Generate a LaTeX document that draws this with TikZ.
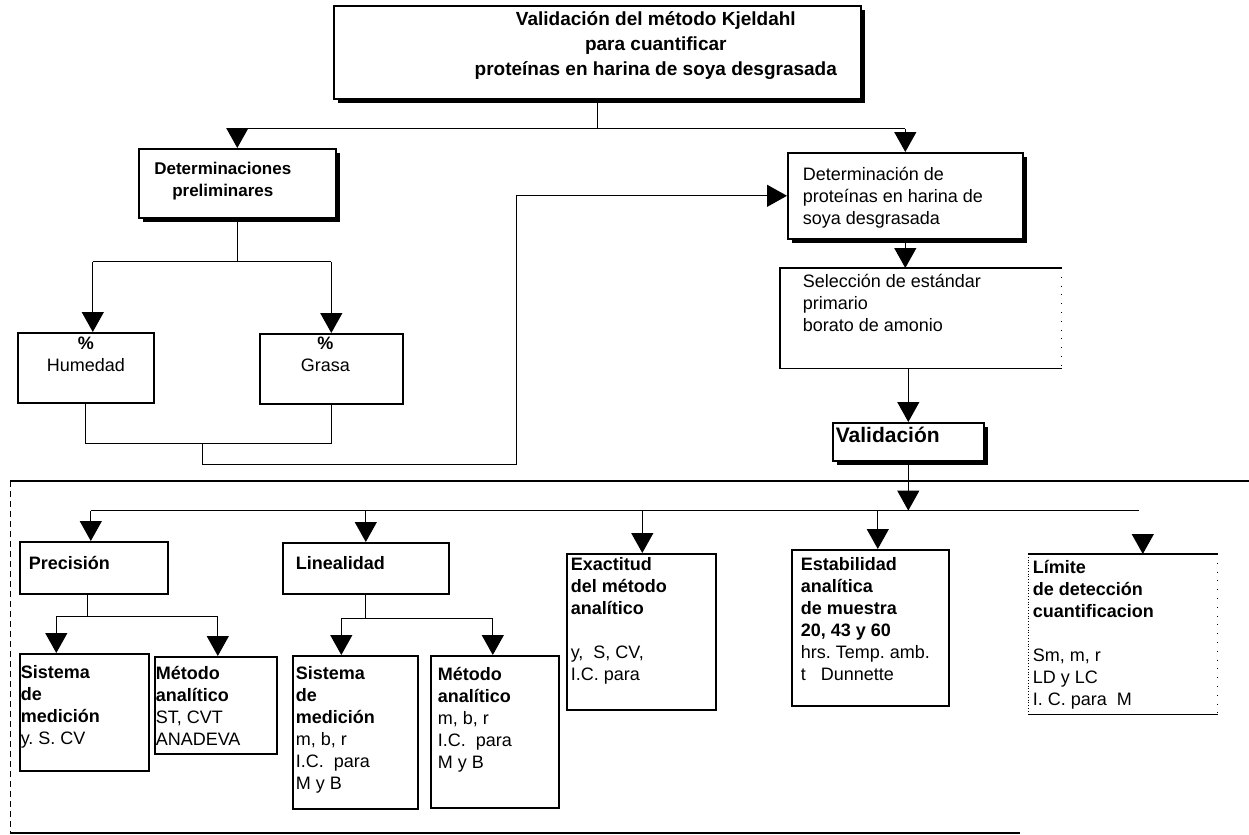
\documentclass[tikz,border=0pt]{standalone}
\usepackage{fontspec}
\setmainfont{Liberation Sans}
\usetikzlibrary{arrows.meta,shadows}
\frenchspacing

\newcommand{\caja}[5]{\parbox[t][\dimexpr#2pt/2\relax][t]{\dimexpr#1pt/2\relax}{\raggedright\vspace*{\dimexpr#4pt/2\relax}\leftskip=\dimexpr#3pt/2\relax #5}}

\begin{document}
\begin{tikzpicture}[x=0.5pt,y=-0.5pt,
  caja/.style={draw,line width=0.8pt,anchor=north west,inner sep=0pt,font=\fontsize{9}{11}\selectfont},
  negrita/.style={font=\bfseries\fontsize{9}{11}\selectfont},
  sombra/.style={fill=white,drop shadow={shadow xshift=2pt,shadow yshift=-2pt,fill=black,opacity=1}},
  linea/.style={line width=0.65pt},
  flecha/.style={linea,-{Triangle[width=11pt,length=10pt]}}]
  \useasboundingbox (0,0) rectangle (1249,835);

  \node[caja,sombra,font=\bfseries\fontsize{9.5}{12.5}\selectfont] (titulo) at (333,5)
    {\caja{527}{93}{0}{6}{\centering\leftskip=64pt plus 1fil\rightskip=5.5pt plus 1fil Validación del método Kjeldahl\\para cuantificar\\proteínas en harina de soya desgrasada}};
  \node[caja,sombra,font=\bfseries\fontsize{8.5}{11}\selectfont] (detprel) at (138,148)
    {\caja{197}{69}{0}{13}{\centering\rightskip=14.5pt plus 1fil Determinaciones\\preliminares}};
  \node[caja] (humedad) at (17,332) {\caja{136}{70}{0}{4}{\centering\textbf{\%}\\Humedad}};
  \node[caja] (grasa) at (259,333) {\caja{143}{70}{0}{3}{\centering\rightskip=6pt plus 1fil\textbf{\%}\\Grasa}};
  \node[caja,sombra] (detprot) at (787,152) {\caja{235}{86}{15}{14}{Determinación de\\proteínas en harina de\\soya desgrasada}};
  \node[caja,draw=none] (seleccion) at (780,268) {\caja{280}{99}{22}{5}{Selección de estándar\\primario\\borato de amonio}};
  \node[caja,sombra,font=\bfseries\fontsize{10.5}{12}\selectfont] (validacion) at (832,422) {\caja{151}{38}{3}{4}{Validación}};

  \node[caja,negrita] (precision) at (19,541) {\caja{148}{52}{9}{14}{Precisión}};
  \node[caja,negrita] (linealidad) at (282,542) {\caja{166}{51}{13}{14}{Linealidad}};
  \node[caja] (sistema1) at (19,653) {\caja{129}{117}{1}{12}{\textbf{Sistema\\de\\medición}\\y. S. CV}};
  \node[caja] (metodo1) at (154,656) {\caja{122}{97}{1}{9}{\textbf{Método\\analítico}\\ST, CVT\\ANADEVA}};
  \node[caja] (sistema2) at (292,655) {\caja{125}{153}{3}{11}{\textbf{Sistema\\de\\medición}\\m, b, r\\I.C.~~para\\M y B}};
  \node[caja] (metodo2) at (430,655) {\caja{128}{152}{7}{11}{\textbf{Método\\analítico}\\m, b, r\\I.C.~~para\\M y B}};
  \node[caja] (exactitud) at (566,553) {\caja{149}{156}{4}{4}{\textbf{Exactitud\\del método\\analítico}\\[11pt]y,~~S, CV,\\I.C. para}};
  \node[caja] (estabilidad) at (791,549) {\caja{157}{156}{9}{8}{\textbf{Estabilidad\\analítica\\de muestra\\20, 43 y 60}\\hrs. Temp. amb.\\t~~~Dunnette}};
  \node[caja,draw=none] (limite) at (1028,554) {\caja{188}{159}{4}{5}{\textbf{Límite\\de detección\\cuantificacion}\\[11pt]Sm, m, r\\LD y LC\\I. C. para~~M}};

  \draw[line width=0.8pt] (seleccion.south east) -- (seleccion.south west) -- (seleccion.north west) -- (seleccion.north east);
  \draw[thin,loosely dotted] (seleccion.north east) -- (seleccion.south east);
  \draw[line width=0.8pt] (limite.north west) -- (limite.north east) (limite.south west) -- (limite.south east);
  \draw[thin,densely dotted] (limite.north west) -- (limite.south west);
  \draw[thin,loosely dotted] (limite.north east) -- (limite.south east);

  \draw[linea] (titulo.south) -- ++(0,29) coordinate (b1);
  \draw[linea] (detprel.north |- b1) -- (detprot.north |- b1);
  \draw[flecha] (detprel.north |- b1) -- (detprel.north);
  \draw[flecha] (detprot.north |- b1) -- (detprot.north);

  \draw[linea] (detprel.south) -- ++(0,43) coordinate (b2);
  \coordinate (h) at ([xshift=3.5pt]humedad.north);
  \draw[linea] (h |- b2) -- (grasa.north |- b2);
  \draw[flecha] (h |- b2) -- (h);
  \draw[flecha] (grasa.north |- b2) -- (grasa.north);

  \draw[linea] (humedad.south) -- ++(0,40) coordinate (b3) -| (grasa.south);
  \draw[flecha] (b3) ++(117,0) -- ++(0,21) -- ++(314,0) |- (detprot.west);

  \draw[flecha] (detprot.south) -- (detprot.south |- seleccion.north);
  \draw[flecha] (validacion.north |- seleccion.south) -- (validacion.north);

  \draw[linea] (10,481) -- (1249,481);
  \draw[thin,densely dashed] (10,481) -- (10,833);
  \draw[linea] (10,833) -- (1020,833);

  \draw[flecha] (validacion.south) -- ++(0,49) coordinate (b5);
  \draw[linea] ([xshift=-1.5pt]precision.north |- b5) -- ([xshift=8pt]limite.north |- b5);
  \foreach \n/\s in {precision/-1.5,linealidad/0,exactitud/0.5,estabilidad/3.75}
    \draw[flecha] ([xshift=\s pt]\n.north |- b5) -- ([xshift=\s pt]\n.north);
  \draw[flecha] ([xshift=10pt,yshift=10pt]limite.north) -- ([xshift=10pt]limite.north);

  \draw[linea] ([xshift=-3pt]precision.south) -- ++(0,22) coordinate (b6);
  \draw[linea] ([xshift=-14pt]sistema1.north |- b6) -- ([xshift=1pt]metodo1.north |- b6);
  \draw[flecha] ([xshift=-14pt]sistema1.north |- b6) -- ([xshift=-14pt]sistema1.north);
  \draw[flecha] ([xshift=1pt]metodo1.north |- b6) -- ([xshift=1pt]metodo1.north);

  \draw[linea] (linealidad.south) -- ++(0,24) coordinate (b7);
  \draw[linea] ([xshift=-7pt]sistema2.north |- b7) -- ([xshift=-1pt]metodo2.north |- b7);
  \draw[flecha] ([xshift=-7pt]sistema2.north |- b7) -- ([xshift=-7pt]sistema2.north);
  \draw[flecha] ([xshift=-1pt]metodo2.north |- b7) -- ([xshift=-1pt]metodo2.north);
\end{tikzpicture}
\end{document}
